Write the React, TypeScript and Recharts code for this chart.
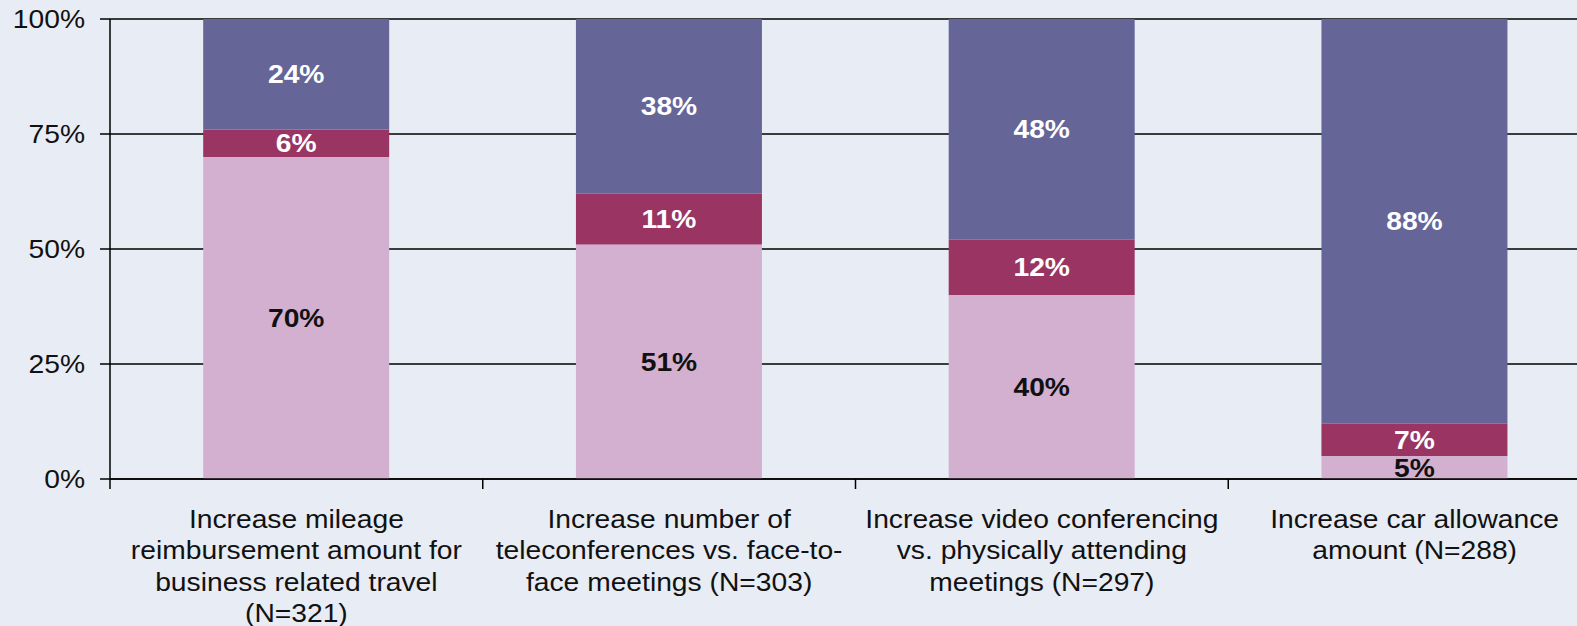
import React from "react";
import { BarChart, Bar, XAxis, YAxis, CartesianGrid, LabelList } from "recharts";

const categories = ["mileage", "teleconf", "video", "car"];
const categoryLines = [
  ["Increase mileage", "reimbursement amount for", "business related travel", "(N=321)"],
  ["Increase number of", "teleconferences vs. face-to-", "face meetings (N=303)"],
  ["Increase video conferencing", "vs. physically attending", "meetings (N=297)"],
  ["Increase car allowance", "amount (N=288)"],
];
const bottomValues = [70, 51, 40, 5];
const middleValues = [6, 11, 12, 7];
const topValues = [24, 38, 48, 88];
const yTicks = [0, 25, 50, 75, 100];

const data = categories.map((c, i) => ({
  name: c,
  bottom: bottomValues[i],
  middle: middleValues[i],
  top: topValues[i],
}));

const FONT = "'Liberation Sans', Arial, sans-serif";
const SX = 1.13;

const YTick = (props: any) => {
  const { x, y, payload } = props;
  return (
    <g transform={`translate(${x},${y}) scale(${SX},1)`}>
      <text x={0} y={0} dy={9} textAnchor="end" fontFamily={FONT} fontSize={25} fill="#111">
        {payload.value}%
      </text>
    </g>
  );
};

const XTick = (props: any) => {
  const { x, y, payload, index } = props;
  const off = payload && payload.offset ? payload.offset : 186.4;
  const lines = categoryLines[index] || [];
  return (
    <g>
      <line x1={x - off} x2={x - off} y1={y - 14} y2={y - 4} stroke="#000" strokeWidth={1.5} />
      <g transform={`translate(${x},${y}) scale(${SX},1)`}>
        {lines.map((l: string, k: number) => (
          <text key={k} x={0} y={35 + k * 31.5} textAnchor="middle" fontFamily={FONT} fontSize={25} fill="#111">
            {l}
          </text>
        ))}
      </g>
    </g>
  );
};

const makeLabel = (color: string) => (props: any) => {
  const { x, y, width, height, value } = props;
  const cx = x + width / 2;
  const cy = y + height / 2;
  return (
    <g transform={`translate(${cx},${cy}) scale(${SX},1)`}>
      <text x={0} y={0} dy={9} textAnchor="middle" fontFamily={FONT} fontWeight="bold" fontSize={25} fill={color}>
        {value}%
      </text>
    </g>
  );
};

export default function App() {
  return (
    <div
      style={{
        position: "absolute",
        left: 0,
        top: 0,
        width: 1577,
        height: 626,
        overflow: "hidden",
        background: "#E8ECF4",
      }}
    >
      <BarChart
        width={1610}
        height={626}
        data={data}
        margin={{ top: 19, right: 9, bottom: 0, left: 0 }}
        barCategoryGap="25%"
      >
        <CartesianGrid horizontal vertical={false} stroke="#000" strokeWidth={1.5} />
        <XAxis
          dataKey="name"
          height={147}
          tick={<XTick />}
          tickLine={false}
          tickSize={10}
          tickMargin={4}
          axisLine={{ stroke: "#000", strokeWidth: 1.5 }}
          interval={0}
        />
        <YAxis
          width={110}
          domain={[0, 100]}
          ticks={yTicks}
          tick={<YTick />}
          tickSize={10}
          tickMargin={15}
          tickLine={{ stroke: "#000", strokeWidth: 1.5 }}
          axisLine={{ stroke: "#000", strokeWidth: 1.5 }}
        />
        <Bar dataKey="bottom" stackId="a" fill="#D4B0D0" isAnimationActive={false}>
          <LabelList dataKey="bottom" content={makeLabel("#111")} />
        </Bar>
        <Bar dataKey="middle" stackId="a" fill="#993463" isAnimationActive={false}>
          <LabelList dataKey="middle" content={makeLabel("#fff")} />
        </Bar>
        <Bar dataKey="top" stackId="a" fill="#656598" isAnimationActive={false}>
          <LabelList dataKey="top" content={makeLabel("#fff")} />
        </Bar>
      </BarChart>
    </div>
  );
}
